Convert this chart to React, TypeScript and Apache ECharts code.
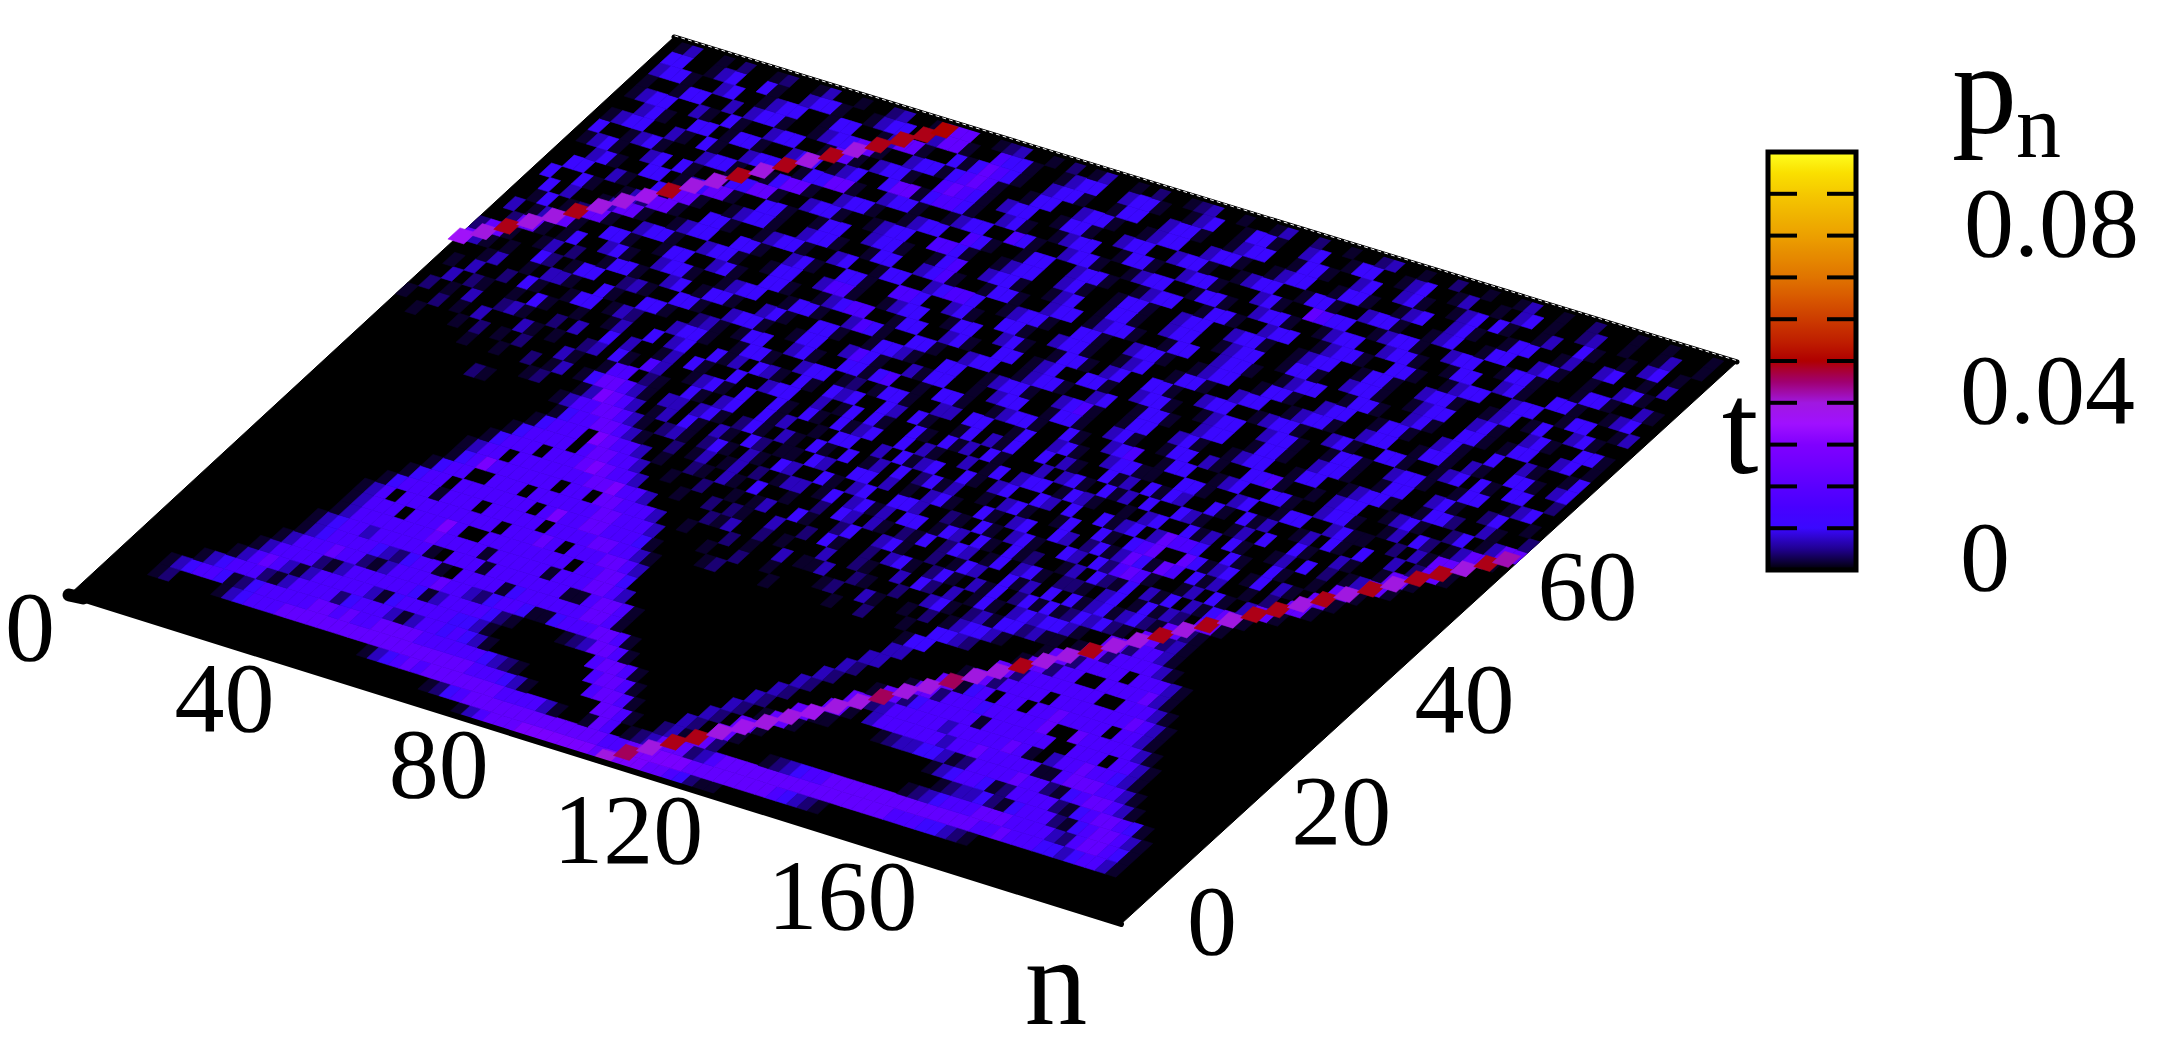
import React, { useEffect, useRef } from "react";
import * as echarts from "echarts";

// Field: one row per t (0, 2, ... 98), one digit per n (0, 2, ... 198).
const fieldRows = [
"0000000000 0000000000 0000000000 0000001356 6677777776 7777665421 1000000000 0000000000 0000000000 0000000000",
"0000000000 0000000000 0000000000 0012456666 6666666665 5677777666 6666654321 0000000000 0000000000 0000000000",
"0000000000 0000000000 0000013456 5666666655 5531001650 1236662356 6666666666 6666655544 3210000000 0000000000",
"0000120000 1345556666 6666666666 6666555431 0000006651 0023166200 0012345566 6666666666 6655655544 3455310000",
"0000134554 1245555566 5655666655 5555432100 0000566510 0003206610 0000000000 0000123455 5666555532 5665410000",
"0000001345 5521355552 4555313554 5431000000 0005665100 0000320661 0000000000 0000001233 4214555214 5665310000",
"0000000013 5653135555 5314555554 4310000000 0056651000 0000032016 6100000000 0000134554 1255552145 6654100000",
"0000000001 3555521355 5555413555 5421000012 3665100000 0000003200 6611000012 3344312555 5655214566 5310000000",
"0000000000 1355565521 3555565532 4554114555 6651000000 0000000320 0066103555 5553556555 5511566655 3100000000",
"0000000000 0134555543 2455105555 1455555566 5100000000 0000000032 0006623555 5535555565 1035565543 1000000000",
"0000000000 0134553555 5510555155 5555511566 5100000000 0000000003 2000166245 5555155555 5005550553 1000000000",
"0000000000 0013555555 5655551555 5515556653 0000000000 0000000000 3200001662 5554555556 0065555531 0000000000",
"0000000000 0013555055 5750055555 5550556640 0000000000 0000000000 0330000066 1450550556 5555055310 0000000000",
"0000000000 0013505555 5555505556 5055566530 0000000000 0000000000 0033000001 6625555055 5555565310 0000000000",
"0000000000 0001455515 5505555505 5556655310 0000000000 0000000000 0014400000 0662555555 5005553100 0000000000",
"0000000000 0000145505 5555550575 5665554100 0012000010 0000100200 0100443200 0016625500 5555631000 0000000000",
"0000000000 0000014550 0555055555 5665553000 0100200100 0012003100 1020134431 0001662555 5055531000 0000000000",
"0000000000 0000001457 5555550550 6655530010 0020100301 1300210020 0341023144 2311016625 5553100000 0000000000",
"0000000000 0000001355 0555555566 7553000002 1300201000 3002100304 2030141034 3443100662 5531000000 0000000000",
"0000000000 0000000145 5505556765 5300010020 2100300204 1002034102 4103140241 4124342106 6231000000 0000000000",
"0000000000 0000000014 5555056655 3001002001 0130041002 4003410020 1430041304 0413413421 6621000000 0000000000",
"0000000000 0000000001 4555076553 0100210310 4001002043 0310214024 3014034102 2103401413 2066100000 0000000000",
"0000000000 0000000000 1455665310 0201301302 0133014034 1304401430 4104120013 0421403140 3146610000 0000000000",
"0000000000 0210000001 3556653102 3102410310 4300410340 0443002104 1034100430 4256510013 0410366100 0000000000",
"0000000000 0000012000 1376530130 4103104201 1043004403 0103410041 0340043024 1364165041 3001020661 0000000000",
"0000000010 0100201301 4665310330 3410241031 0410401304 0241300103 4100140041 0456006413 4014031066 1000000000",
"0010001020 1020003100 1550210041 0340041300 1044003041 3400410340 0430400413 4036554004 1004100106 6100000000",
"1002010300 0310100230 4105300134 1040041041 0413400403 1003014034 4014310010 3400413041 0013040201 3661000000",
"0201030023 1002030040 3001304100 4003440030 1404100410 4130410003 0341041304 0043100130 4004100310 0166100000",
"0030210010 4100100130 0403400413 0431041043 4004304100 1403140040 3100413041 4300410413 0013041040 0302661000",
"0103002041 0014401320 0034410014 4100344012 0144100330 4400140034 1003441100 4410034001 4400341100 2031661000",
"0001300103 3100410044 1002310144 0034100441 4500104410 0134410041 0034500144 0013400441 0034410013 0420136610",
"6310100420 1440023100 4410034410 0144003541 0031440010 3440014410 0341001440 3100445100 1034400134 1002401366",
"2661001302 0014410034 0144100341 0044100144 3100440013 4410034510 0144003410 0134400144 0013441001 4420031002",
"0026610140 0341003441 0013440014 4100354100 4410034400 1344100340 0144100344 0014410034 4100144003 4100240010",
"0301366100 4410014400 3410044100 1345500144 0034100440 1340044100 3441001344 0034410014 4100344100 1440013400",
"0014012661 0034410034 4100144003 5510013440 0144003410 0144103400 4410034400 1344100341 0044100134 0410440020",
"0040300136 6100134400 4410034100 4410055400 3410044100 3441001340 0144100344 0013441003 4400144103 1004410340",
"0400410013 2661004410 0134410034 0014400345 5400134410 0441003441 0013440014 4100344001 4410034100 4003100140",
"0044003100 4166100134 4100344100 1440034510 0144100344 0134410014 4003441001 3440014410 0341004410 1440034010",
"0003410044 0134661004 4100144003 4410014500 3441001340 0144100344 0013440014 4100344100 1344003410 0341004410",
"0134100340 4100144661 0034410013 4400554100 1344003410 0144100344 0034410013 4400144100 3441001340 1400341000",
"0400134100 0344100146 6100344100 1344005410 0144003441 0013440014 4100344001 3441004410 0134400344 0014400130",
"0134400310 4100344001 4466100344 1001344005 4100344100 1344001441 0034410013 4400344100 1440034100 4410013400",
"0003410044 0144100344 0134004661 4554100341 0013440014 4100344100 0341006544 0013441003 4400144100 0144100310",
"0134400310 4100344001 6610344100 5654103440 0144100344 0034410013 4400144100 3441001340 0144003410 0100341000",
"0100144003 0344100134 4661003441 4565100144 0034410013 4400344100 1344001441 0013400341 0014400130 0340010300",
"0344100340 0134400144 0013661004 1465410034 4100144003 4410013440 0144100340 0341001340 4100130041 0010340100",
"0440013400 4100344100 1344003661 0054410013 4400344100 1340014410 0340014400 1340013001 0340100230 0100130010",
"0130010200 1200130010 0230015660 0123001020 1300102001 2300100130 0200100230 0100200100 1300100200 0100100010",
];
const levelValues = [0, 0.0015, 0.004, 0.007, 0.0105, 0.016, 0.022, 0.028, 0.035, 0.045];

// Ridge of the fast front.
const beamN = [101,103.5,106,108.5,111,113.5,116,118.5,121,123.5,126,128.5,131,133.5,136,138.5,141,143.5,146,148.5,151,153.5,156,158.5,161,163.5,166,168.5,171,173.5,176,178.5,181,183.5,186,188.5,191,193.5,196,198,
  0.5,3,5.5,8,10.5,13,15.5,18,20.5,23,25.5,28,30.5,33,35.5,38,40.5,43,45.5,48,50.5,52.5];
const beamT = [0.7,2.3,3.9,5.6,7.2,8.9,10.5,12.1,13.8,15.4,17.1,18.7,20.3,22,23.6,25.3,26.9,28.5,30.2,31.8,33.5,35.1,36.7,38.4,40,41.7,43.3,44.9,46.6,48.2,49.9,51.5,53.1,54.8,56.4,58.1,59.7,61.3,63,64.3,
  64.5,66,67.7,69.3,71,72.6,74.2,75.9,77.5,79.2,80.8,82.4,84.1,85.7,87.4,89,90.6,92.3,93.9,95.6,97.2,98.6];
const beamP = [0.04,0.046,0.04,0.049,0.049,0.04,0.038,0.04,0.04,0.038,0.04,0.04,0.046,0.04,0.04,0.046,0.04,0.04,0.049,0.04,0.04,0.049,0.04,0.04,0.049,0.04,0.049,0.04,0.049,0.049,0.04,0.049,0.04,0.049,0.04,0.049,0.049,0.04,0.049,0.042,
  0.036,0.04,0.049,0.04,0.04,0.049,0.04,0.04,0.038,0.049,0.04,0.04,0.049,0.04,0.049,0.04,0.049,0.04,0.049,0.049,0.049,0.05];

const nTicks = [0, 40, 80, 120, 160];
const tTicks = [0, 20, 40, 60];
const colorTicks = [0.01, 0.02, 0.03, 0.04, 0.05, 0.06, 0.07, 0.08, 0.09];
const colorStops = ["#000000","#200090","#3a08ff","#4800ff","#5a00ff","#6e00ff","#8000ff","#a010ff","#a018e0","#a00070","#b00000","#c02000","#cc3c00","#d85800","#e07400","#e68a00","#eca000","#f0b400","#f5c800","#fae000","#ffff20"];

const SERIF = '"Liberation Serif", "Times New Roman", serif';
const GRID = { left: 100, top: 100, width: 1000, height: 500 };
const A = [69, 595], B = [1121, 924], C = [1737, 362], D = [674, 37];
const BAR = { x: 1768, y: 152, w: 88, h: 418 };

function project(api: any, n: number, t: number) {
  const p = api.coord([n, t]);
  const u = (p[0] - GRID.left) / GRID.width;
  const v = (GRID.top + GRID.height - p[1]) / GRID.height;
  const w = (i: number) => A[i] * (1 - u) * (1 - v) + B[i] * u * (1 - v) + C[i] * u * v + D[i] * (1 - u) * v;
  return [w(0), w(1)];
}

const cells: number[][] = [];
fieldRows.forEach((row, r) => {
  row.replace(/ /g, "").split("").forEach((d, c) => {
    if (d !== "0") cells.push([c * 2, r * 2, levelValues[+d], 2, 2]);
  });
});
const beams = beamN.map((n, i) => [n - 1.5, beamT[i] - 1, beamP[i], 3, 2]);

function renderCell(_: any, api: any) {
  const n = api.value(0), t = api.value(1), dn = api.value(3), dt = api.value(4);
  const color = api.visual("color");
  return {
    type: "polygon",
    shape: { points: [project(api, n, t), project(api, n + dn, t), project(api, n + dn, t + dt), project(api, n, t + dt)] },
    style: { fill: color, stroke: color, lineWidth: 0.6 },
    silent: true,
  };
}

function hidden(name: string, data: any[], renderItem: any, z: number) {
  return { type: "custom", name, data, renderItem, z, coordinateSystem: "cartesian2d", clip: false, silent: true, progressive: 0 } as any;
}

const label = (x: number, y: number, text: any, size: number, align = "center") => ({
  type: "text",
  x, y,
  silent: true,
  style: { text: String(text), fontFamily: SERIF, fontSize: size, fill: "#000", textAlign: align, textVerticalAlign: "middle" },
});

export default function App() {
  const ref = useRef<HTMLDivElement>(null);
  useEffect(() => {
    const chart = echarts.init(ref.current!, null, { renderer: "svg" });
    const option: any = {
      animation: false,
      backgroundColor: "#fff",
      grid: { ...GRID, show: false },
      xAxis: { type: "value", min: 0, max: 200, show: false },
      yAxis: { type: "value", min: 0, max: 100, show: false },
      visualMap: {
        type: "continuous",
        min: 0, max: 0.1,
        dimension: 2,
        seriesIndex: [1, 2],
        left: BAR.x, top: BAR.y,
        itemWidth: BAR.w, itemHeight: BAR.h,
        padding: 0,
        calculable: false,
        hoverLink: false,
        inRange: { color: colorStops },
      },
      graphic: [
        { type: "rect", shape: { x: BAR.x, y: BAR.y, width: BAR.w, height: BAR.h }, style: { fill: "none", stroke: "#000", lineWidth: 5 }, z: 20, silent: true },
        ...colorTicks.flatMap((v) => {
          const y = BAR.y + BAR.h * (1 - v / 0.1);
          return [
            { type: "line", shape: { x1: BAR.x, y1: y, x2: BAR.x + 29, y2: y }, style: { stroke: "#000", lineWidth: 4 }, z: 20, silent: true },
            { type: "line", shape: { x1: BAR.x + BAR.w - 29, y1: y, x2: BAR.x + BAR.w, y2: y }, style: { stroke: "#000", lineWidth: 4 }, z: 20, silent: true },
          ];
        }),
        label(1964, 222, "0.08", 100, "left"),
        label(1960, 389, "0.04", 100, "left"),
        label(1960, 556, "0", 100, "left"),
        label(1952, 88, "p", 130, "left"),
        label(2016, 126, "n", 90, "left"),
        label(1740, 428, "t", 132),
        label(1056, 982, "n", 125),
      ],
      series: [
        hidden("base", [[0, 0]], (_: any, api: any) => ({
          type: "polygon",
          shape: { points: [project(api, 0, 0), project(api, 200, 0), project(api, 200, 100), project(api, 0, 100)] },
          style: { fill: "#000", stroke: "#000", lineWidth: 1 },
        }), 1),
        hidden("field", cells, renderCell, 2),
        hidden("front", beams, renderCell, 3),
        hidden("frame", [[0, 0]], (_: any, api: any) => {
          const a = project(api, 0, 0), b = project(api, 200, 0), c = project(api, 200, 100), d = project(api, 0, 100);
          const line = (p: number[], q: number[], width: number, color: string, dash?: number[]) => ({
            type: "line",
            shape: { x1: p[0], y1: p[1], x2: q[0], y2: q[1] },
            style: { stroke: color, lineWidth: width, lineDash: dash, lineCap: "round" },
          });
          return {
            type: "group",
            children: [
              line(a, b, 6, "#000"),
              line(d, c, 5, "#000"),
              line([d[0] + 1, d[1] - 1], [c[0] + 1, c[1] - 1], 1, "#fff", [3, 4]),
              line(a, [a[0] + 14, a[1] + 3], 13, "#000"),
            ],
          };
        }, 4),
        hidden("nTicks", nTicks.map((n) => [n, 0]), (_: any, api: any) => {
          const n = api.value(0);
          const p = project(api, n, 0);
          const nudge = n === 0 ? -14 : (n - 40) * 0.1 - 5;
          return label(p[0] + nudge, p[1] + (n === 0 ? 31 : 37), n, 100, "right");
        }, 5),
        hidden("tTicks", tTicks.map((t) => [200, t]), (_: any, api: any) => {
          const t = api.value(1);
          const p = project(api, 200, t);
          return label(p[0] + (t === 0 ? 66 : 47), p[1] + (t === 0 ? -4 : -1), t, 100, "left");
        }, 5),
      ],
    };
    chart.setOption(option);
    return () => chart.dispose();
  }, []);
  return <div ref={ref} style={{ position: "absolute", left: 0, top: 0, width: 2170, height: 1050 }} />;
}
